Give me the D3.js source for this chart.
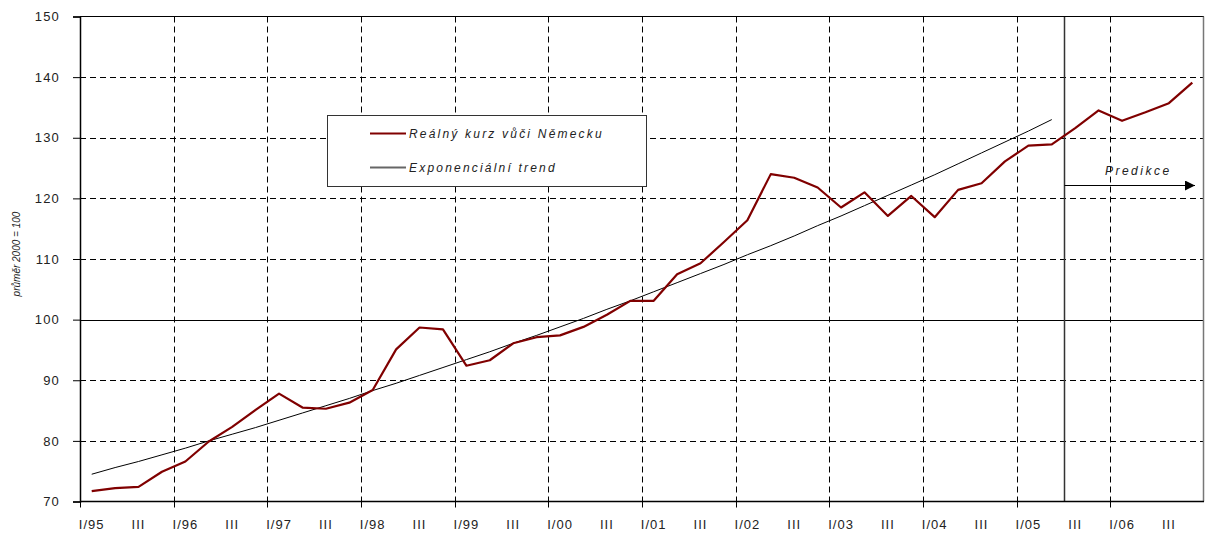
<!DOCTYPE html>
<head>
    <meta charset="utf-8">
    <title>Reálný kurz vůči Německu</title>
    <style>
        body { margin: 0; background: #fff; }
        text { font-family: "Liberation Sans", Arial, sans-serif; fill: #222; }
        .grid line { stroke: #000; stroke-width: 1; stroke-dasharray: 6,4; }
        .legend text, .pred { font-style: italic; font-size: 12px; }
    </style>
</head>
<body>
<div id="graph"></div>
</body>

<script src="https://d3js.org/d3.v7.min.js"></script>
<script>

    // years and quarters on the x axis
    var years = ["95","96","97","98","99","00","01","02","03","04","05","06"];
    var quarterNames = ["I","II","III","IV"];

    // Reálný kurz vůči Německu (quarterly, I/95 .. IV/06)
    var realRate = [
        71.7, 72.2, 72.4, 74.9,
        76.6, 79.9, 82.3, 85.1,
        87.8, 85.5, 85.3, 86.3,
        88.4, 95.1, 98.7, 98.4,
        92.4, 93.3, 96.1, 97.1,
        97.4, 98.8, 100.8, 103.1,
        103.1, 107.5, 109.3, 112.8,
        116.4, 124.0, 123.4, 121.8,
        118.5, 121.0, 117.1, 120.4,
        116.9, 121.4, 122.5, 126.1,
        128.7, 128.9, 131.6, 134.5,
        132.8, 134.2, 135.7, 139.1
    ];

    // Exponenciální trend (I/95 .. II/05)
    var trend = [
        74.5, 75.6, 76.6, 77.7,
        78.8, 80.0, 81.1, 82.2,
        83.4, 84.6, 85.8, 87.0,
        88.3, 89.5, 90.8, 92.1,
        93.4, 94.7, 96.1, 97.4,
        98.8, 100.2, 101.7, 103.1,
        104.6, 106.1, 107.6, 109.1,
        110.7, 112.2, 113.8, 115.5,
        117.1, 118.8, 120.5, 122.2,
        123.9, 125.7, 127.5, 129.3,
        131.1, 133.0
    ];

    var yTicks = [70, 80, 90, 100, 110, 120, 130, 140, 150];
    var predictionStart = "III/05";

    var quarters = [];
    years.forEach(function(y) {
        quarterNames.forEach(function(q) { quarters.push(q + "/" + y); });
    });

    var width = 1205, height = 536;
    var margin = {top: 16.5, right: 1, bottom: 34.5, left: 80};

    var svg = d3.select("#graph").append("svg")
        .attr("width", width)
        .attr("height", height);

    var xScale = d3.scaleBand()
        .domain(quarters)
        .range([margin.left, width - margin.right])
        .padding(0);

    var yScale = d3.scaleLinear()
        .domain([70, 150])
        .range([height - margin.bottom, margin.top]);

    var x0 = margin.left, x1 = width - margin.right;
    var y0 = height - margin.bottom, y1 = margin.top;
    var bw = xScale.bandwidth();

    // horizontal grid (100 is solid)
    svg.append("g").attr("class", "grid")
        .selectAll("line")
        .data(yTicks.filter(function(d) { return d != 70 && d != 150; }))
        .join("line")
        .attr("x1", x0).attr("x2", x1)
        .attr("y1", function(d) { return Math.round(yScale(d)) + 0.5; })
        .attr("y2", function(d) { return Math.round(yScale(d)) + 0.5; })
        .style("stroke-dasharray", function(d) { return d == 100 ? "none" : null; });

    // vertical grid at year boundaries
    var yearStarts = quarters.filter(function(q) { return q.indexOf("I/") == 0; }).slice(1);
    svg.append("g").attr("class", "grid")
        .selectAll("line")
        .data(yearStarts)
        .join("line")
        .attr("x1", function(d) { return Math.round(xScale(d)) + 0.5; })
        .attr("x2", function(d) { return Math.round(xScale(d)) + 0.5; })
        .attr("y1", y1).attr("y2", y0);

    // prediction separator
    var px = Math.round(xScale(predictionStart)) + 0.5;
    svg.append("line")
        .attr("x1", px).attr("x2", px)
        .attr("y1", y1).attr("y2", y0)
        .attr("stroke", "#333").attr("stroke-width", 1.5);

    // plot frame
    svg.append("line").attr("x1", x0).attr("x2", x1).attr("y1", y1).attr("y2", y1)
        .attr("stroke", "#000");
    svg.append("line").attr("x1", x1 - 0.5).attr("x2", x1 - 0.5).attr("y1", y1).attr("y2", y0)
        .attr("stroke", "#777").attr("stroke-width", 1.5);

    // y axis
    var yAxis = svg.append("g")
        .attr("transform", "translate(" + x0 + ",0)")
        .call(d3.axisLeft(yScale).tickValues(yTicks).tickSize(7).tickPadding(13));
    yAxis.select(".domain").attr("stroke", "#000").attr("stroke-width", 1.5);
    yAxis.selectAll("text")
        .style("font-size", "13px").style("letter-spacing", "1.2px")
        .style("font-family", "'Liberation Sans', Arial, sans-serif").attr("fill", "#222");

    // x axis: ticks at year boundaries, labels at quarter centres
    var xAxis = svg.append("g")
        .attr("transform", "translate(0," + y0 + ")");
    xAxis.append("line").attr("x1", x0).attr("x2", x1).attr("y1", 0).attr("y2", 0)
        .attr("stroke", "#000").attr("stroke-width", 1.5);
    xAxis.selectAll(".tk")
        .data(quarters.filter(function(q) { return q.indexOf("I/") == 0; }))
        .join("line").attr("class", "tk")
        .attr("x1", function(d) { return Math.round(xScale(d)) + 0.5; })
        .attr("x2", function(d) { return Math.round(xScale(d)) + 0.5; })
        .attr("y1", 0).attr("y2", 6)
        .attr("stroke", "#000");
    xAxis.selectAll(".lbl")
        .data(quarters.filter(function(q) { return q.indexOf("I/") == 0 || q.indexOf("III/") == 0; }))
        .join("text").attr("class", "lbl")
        .attr("x", function(d) { return xScale(d) + bw / 2; })
        .attr("y", 27)
        .attr("text-anchor", "middle")
        .style("font-size", "13px").style("letter-spacing", "1px")
        .text(function(d) { return d.indexOf("III/") == 0 ? "III" : d; });

    // y axis title
    svg.append("text")
        .attr("transform", "translate(20,254) rotate(-90)")
        .attr("text-anchor", "middle")
        .style("font-size", "10px").style("font-style", "italic")
        .text("průměr 2000 = 100");

    // lines
    var line = d3.line()
        .x(function(d, i) { return xScale(quarters[i]) + bw / 2; })
        .y(function(d) { return yScale(d); });

    svg.append("path")
        .datum(trend)
        .attr("fill", "none").attr("stroke", "#000").attr("stroke-width", 1)
        .attr("d", line);

    svg.append("path")
        .datum(realRate)
        .attr("fill", "none").attr("stroke", "#800000").attr("stroke-width", 2.2)
        .attr("stroke-linejoin", "round")
        .attr("d", line);

    // Predikce arrow
    var defs = svg.append("defs");
    defs.append("marker").attr("id", "arr")
        .attr("viewBox", "0 0 10 10").attr("refX", 10).attr("refY", 5)
        .attr("markerWidth", 13).attr("markerHeight", 10)
        .attr("markerUnits", "userSpaceOnUse").attr("orient", "auto")
        .append("path").attr("d", "M0,0L10,5L0,10Z").attr("fill", "#000");
    var ay = Math.round(yScale(122.2)) + 0.5;
    svg.append("line")
        .attr("x1", px).attr("x2", x1 - 9)
        .attr("y1", ay).attr("y2", ay)
        .attr("stroke", "#000").attr("stroke-width", 1.2)
        .attr("marker-end", "url(#arr)");
    svg.append("text").attr("class", "pred")
        .attr("x", xScale("IV/05") + 18).attr("y", ay - 11)
        .style("letter-spacing", "2.5px")
        .text("Predikce");

    // legend
    var lg = svg.append("g").attr("class", "legend");
    lg.append("rect")
        .attr("x", 327.5).attr("y", 115.5).attr("width", 319).attr("height", 71)
        .attr("fill", "#fff").attr("stroke", "#333").attr("stroke-width", 1);
    var items = [
        {name: "Reálný kurz vůči Německu", color: "#800000", w: 2.2},
        {name: "Exponenciální trend", color: "#666", w: 2}
    ];
    items.forEach(function(it, i) {
        var yy = 133.5 + i * 34;
        lg.append("line").attr("x1", 370).attr("x2", 406).attr("y1", yy).attr("y2", yy)
            .attr("stroke", it.color).attr("stroke-width", it.w);
        lg.append("text").attr("x", 409).attr("y", yy + 4.5)
            .style("letter-spacing", "2.2px")
            .text(it.name);
    });

</script>
